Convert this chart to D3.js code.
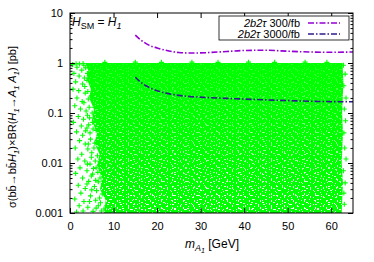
<!DOCTYPE html>
<html lang="en">
<head>
<meta charset="UTF-8" />
<title>sigma x BR vs mA1</title>
<script src="https://cdnjs.cloudflare.com/ajax/libs/d3/7.8.5/d3.min.js"></script>
<style>
  body { margin: 0; background: #fff; }
  text { font-family: "Liberation Sans", Arial, sans-serif; }
</style>
</head>
<body>
<div id="chart"></div>
<script>
// 2b2tau reach curves
const massGrid = [15, 16, 17, 18, 20, 22, 25, 28, 32, 36, 40, 45, 50, 55, 60, 65];
const reach300 = [3.6, 3.0, 2.6, 2.3, 2.0, 1.8, 1.62, 1.58, 1.62, 1.7, 1.78, 1.8, 1.72, 1.66, 1.64, 1.66];
const reach3000 = [0.52, 0.43, 0.37, 0.33, 0.28, 0.25, 0.225, 0.212, 0.203, 0.196, 0.19, 0.183, 0.177, 0.172, 0.169, 0.168];

// outline of the dense part of the scan
const denseEdgeLeft = [[3.5, 1], [4.2, 0.7], [3.8, 0.5], [4.8, 0.3], [4.4, 0.2], [5.5, 0.12], [5.0, 0.07],
  [6.2, 0.04], [5.6, 0.025], [6.8, 0.015], [6.2, 0.009], [7.3, 0.005], [6.9, 0.003], [8.2, 0.0018], [7.8, 0.001]];
const denseEdgeRight = [[62.4, 0.001], [62.7, 0.004], [62.4, 0.01], [62.7, 0.04], [62.5, 0.1], [62.8, 0.4], [62.6, 1]];

// scattered scan points around the dense region
const scanPoints = [
  [0.6, 0.93], [1.4, 0.97], [2.2, 0.96], [3.0, 0.98], [1.6, 0.82], [2.7, 0.72], [3.6, 0.8], [0.9, 0.62],
  [2.1, 0.55], [3.3, 0.5], [1.3, 0.42], [2.9, 0.38], [3.9, 0.45], [0.7, 0.3], [2.0, 0.28], [3.5, 0.25],
  [1.6, 0.2], [2.8, 0.17], [4.2, 0.19], [1.1, 0.14], [2.4, 0.12], [3.7, 0.11], [1.9, 0.085], [3.1, 0.075],
  [4.5, 0.08], [0.8, 0.065], [2.6, 0.055], [3.9, 0.05], [1.5, 0.042], [2.9, 0.036], [4.6, 0.04], [2.2, 0.028],
  [3.5, 0.024], [1.2, 0.02], [4.1, 0.019], [2.7, 0.015], [5.0, 0.016], [1.8, 0.012], [3.4, 0.011], [4.6, 0.0095],
  [2.3, 0.008], [3.9, 0.007], [1.3, 0.0062], [5.2, 0.006], [2.9, 0.005], [4.3, 0.0043], [1.9, 0.0036], [3.5, 0.0031],
  [5.6, 0.0034], [2.5, 0.0025], [4.7, 0.0022], [1.1, 0.0019], [3.2, 0.0017], [5.9, 0.0018], [2.1, 0.0014], [4.1, 0.0013],
  [6.5, 0.0014], [3.0, 0.0011], [5.3, 0.00108], [1.5, 0.00105],
  [4.8, 0.6], [5.3, 0.35], [4.9, 0.22], [5.6, 0.13], [5.2, 0.065], [6.0, 0.045], [5.7, 0.025], [6.3, 0.014],
  [6.0, 0.008], [6.9, 0.005], [6.5, 0.0042], [7.4, 0.0024], [7.0, 0.0016], [7.8, 0.0012],
  [3.2, 0.9], [4.0, 0.62], [3.4, 0.34], [4.1, 0.27], [3.2, 0.16], [4.4, 0.13], [4.0, 0.09], [5.1, 0.1],
  [4.3, 0.058], [3.6, 0.044], [5.3, 0.048], [4.7, 0.03], [4.2, 0.024], [5.5, 0.02], [4.9, 0.013], [5.8, 0.011],
  [4.0, 0.0095], [5.4, 0.0078], [6.4, 0.0065], [4.9, 0.0055], [5.9, 0.0045], [3.9, 0.0038], [6.1, 0.0028], [5.0, 0.0029],
  [6.8, 0.002], [4.5, 0.0017], [7.2, 0.0011], [6.0, 0.00125], [8.4, 0.0014], [9.1, 0.00108],
  [8, 1.03], [15, 1.04], [21, 1.03], [28, 1.04], [34, 1.03], [41, 1.04], [47, 1.03], [54, 1.04], [59, 1.03],
  [62.8, 0.9], [63.2, 0.6], [62.9, 0.35], [63.4, 0.2], [63.0, 0.12], [63.3, 0.07], [62.9, 0.04], [63.1, 0.02],
  [63.4, 0.012], [62.8, 0.007], [63.2, 0.004], [62.9, 0.0025], [63.0, 0.0015]
];

const xTicks = [0, 10, 20, 30, 40, 50, 60];
const yTicks = [0.001, 0.01, 0.1, 1, 10];
const yTickLabels = ["0.001", "0.01", "0.1", "1", "10"];
const legendNames = ["300/fb", "3000/fb"];

const width = 374, height = 262;
const margin = { left: 70, right: 21, top: 13, bottom: 49 };
const w = width - margin.left - margin.right;
const h = height - margin.top - margin.bottom;

const svg = d3.select("#chart").append("svg")
  .attr("width", width).attr("height", height);

const x = d3.scaleLinear().domain([0, 65]).range([0, w]);
const y = d3.scaleLog().domain([0.001, 10]).range([h, 0]);

const defs = svg.append("defs");
defs.append("clipPath").attr("id", "clip")
  .append("rect").attr("width", w).attr("height", h);

// speckle texture: white gaps between the overlapping markers
function speckle(id, tw, th, holes) {
  const p = defs.append("pattern").attr("id", id).attr("patternUnits", "userSpaceOnUse")
    .attr("width", tw).attr("height", th);
  holes.forEach(r => p.append("rect").attr("x", r[0]).attr("y", r[1])
    .attr("width", r[2]).attr("height", r[3]).attr("fill", "#fff"));
}
speckle("speckA", 11, 7, [[1, 2, 1, 1], [5, 0, 2, 1], [8, 4, 1, 1], [3, 5, 1, 2], [9, 1, 1, 1]]);
speckle("speckB", 13, 9, [[0, 6, 2, 1], [6, 3, 1, 2], [10, 7, 1, 1], [4, 1, 1, 1], [11, 2, 2, 1]]);
const mg = defs.append("linearGradient").attr("id", "speckGrad")
  .attr("gradientUnits", "userSpaceOnUse")
  .attr("x1", 0).attr("x2", 0).attr("y1", y(1)).attr("y2", y(0.001));
mg.append("stop").attr("offset", 0).attr("stop-color", "#222");
mg.append("stop").attr("offset", 0.45).attr("stop-color", "#777");
mg.append("stop").attr("offset", 1).attr("stop-color", "#fff");
defs.append("mask").attr("id", "speckMask").attr("maskUnits", "userSpaceOnUse")
  .attr("x", 0).attr("y", 0).attr("width", w).attr("height", h)
  .append("rect").attr("width", w).attr("height", h).attr("fill", "url(#speckGrad)");

const g = svg.append("g").attr("transform", `translate(${margin.left},${margin.top})`);
const plot = g.append("g").attr("clip-path", "url(#clip)");

// dense scan region
const outline = denseEdgeLeft.concat(denseEdgeRight);
const outlineD = d3.line().x(d => x(d[0])).y(d => y(d[1]))(outline) + "Z";
plot.append("path").attr("d", outlineD).attr("fill", "#00ff00");
["speckA", "speckB"].forEach(id => {
  plot.append("path").attr("d", outlineD).attr("fill", `url(#${id})`).attr("mask", "url(#speckMask)");
});

// scattered points
plot.selectAll(".pt").data(scanPoints).join("path")
  .attr("class", "pt")
  .attr("transform", d => `translate(${x(d[0])},${y(d[1])})`)
  .attr("d", "M-2.5,0H2.5M0,-2.5V2.5")
  .attr("stroke", "#00ff00").attr("stroke-width", 1.1);

// reach curves
const series = [
  { vals: reach300, color: "#9400d3", dash: "6,2,1.5,2" },
  { vals: reach3000, color: "#2f1a8c", dash: "6,2,1.5,2" }
];
const line = d3.line().x(d => x(d[0])).y(d => y(d[1])).curve(d3.curveMonotoneX);
series.forEach(s => {
  plot.append("path")
    .attr("d", line(massGrid.map((m, i) => [m, s.vals[i]])))
    .attr("fill", "none").attr("stroke", s.color)
    .attr("stroke-width", 1.6).attr("stroke-dasharray", s.dash);
});

// axes, gnuplot style: inward ticks mirrored on all sides
const minorY = [];
[0.001, 0.01, 0.1, 1].forEach(d => { for (let k = 2; k <= 9; k++) minorY.push(d * k); });

function styleAxis(sel) {
  sel.select(".domain").remove();
  sel.selectAll("line").attr("stroke", "#000");
  sel.selectAll("text").attr("font-size", 11).attr("fill", "#000");
}

g.append("g").attr("transform", `translate(0,${h})`)
  .call(d3.axisBottom(x).tickValues(xTicks).tickSizeInner(-5).tickSizeOuter(0).tickPadding(9))
  .call(styleAxis);
g.append("g")
  .call(d3.axisTop(x).tickValues(xTicks).tickSizeInner(-5).tickSizeOuter(0).tickFormat(""))
  .call(styleAxis);
g.append("g")
  .call(d3.axisLeft(y).tickValues(yTicks).tickSizeInner(-5).tickSizeOuter(0).tickPadding(7)
    .tickFormat((d, i) => yTickLabels[i]))
  .call(styleAxis);
g.append("g")
  .call(d3.axisLeft(y).tickValues(minorY).tickSizeInner(-2.5).tickSizeOuter(0).tickFormat(""))
  .call(styleAxis);
g.append("g").attr("transform", `translate(${w},0)`)
  .call(d3.axisRight(y).tickValues(yTicks).tickSizeInner(-5).tickSizeOuter(0).tickFormat(""))
  .call(styleAxis);
g.append("g").attr("transform", `translate(${w},0)`)
  .call(d3.axisRight(y).tickValues(minorY).tickSizeInner(-2.5).tickSizeOuter(0).tickFormat(""))
  .call(styleAxis);

g.append("rect").attr("width", w).attr("height", h)
  .attr("fill", "none").attr("stroke", "#000").attr("stroke-width", 1);

// H_SM = H_1 label
const hl = g.append("text").attr("x", 2).attr("y", 13).attr("font-size", 12);
hl.append("tspan").attr("font-style", "italic").text("H");
hl.append("tspan").attr("font-size", 9).attr("dy", 3).text("SM");
hl.append("tspan").attr("dy", -3).text(" = ");
hl.append("tspan").attr("font-style", "italic").text("H");
hl.append("tspan").attr("font-size", 9).attr("font-style", "italic").attr("dy", 3).text("1");

// legend
const lg = g.append("g");
lg.append("rect").attr("x", 149).attr("y", 3).attr("width", 130).attr("height", 24)
  .attr("fill", "#fff").attr("stroke", "#000").attr("stroke-width", 0.8);
series.forEach((s, i) => {
  const ly = 10 + i * 11;
  const t = lg.append("text").attr("x", 230).attr("y", ly + 4).attr("text-anchor", "end").attr("font-size", 11);
  t.append("tspan").attr("font-style", "italic").text("2b2τ");
  t.append("tspan").text(" " + legendNames[i]);
  lg.append("line").attr("x1", 238).attr("x2", 270).attr("y1", ly).attr("y2", ly)
    .attr("stroke", s.color).attr("stroke-width", 1.6).attr("stroke-dasharray", s.dash);
});

// x label
const xl = svg.append("text").attr("x", 212).attr("y", 248).attr("text-anchor", "middle").attr("font-size", 12);
xl.append("tspan").attr("font-style", "italic").text("m");
xl.append("tspan").attr("font-style", "italic").attr("font-size", 9).attr("dy", 3).text("A");
xl.append("tspan").attr("font-style", "italic").attr("font-size", 7).attr("dy", 2).text("1");
xl.append("tspan").attr("dy", -5).text(" [GeV]");

// y label
const yl = svg.append("text").attr("transform", "translate(16,127) rotate(-90)")
  .attr("text-anchor", "middle").attr("font-size", 11);
const sub = (txt) => yl.append("tspan").attr("font-size", 8).attr("font-style", "italic").attr("dy", 3).text(txt);
const up = (txt, it) => yl.append("tspan").attr("dy", -3).attr("font-style", it ? "italic" : "normal").text(txt);
yl.append("tspan").text("σ(bb\u0304→bb\u0304");
yl.append("tspan").attr("font-style", "italic").text("H");
sub("1");
up(")×BR(");
yl.append("tspan").attr("font-style", "italic").text("H");
sub("1");
up("→");
yl.append("tspan").attr("font-style", "italic").text("A");
sub("1");
up(" ", true);
yl.append("tspan").attr("font-style", "italic").text("A");
sub("1");
up(") [pb]");
</script>
</body>
</html>
